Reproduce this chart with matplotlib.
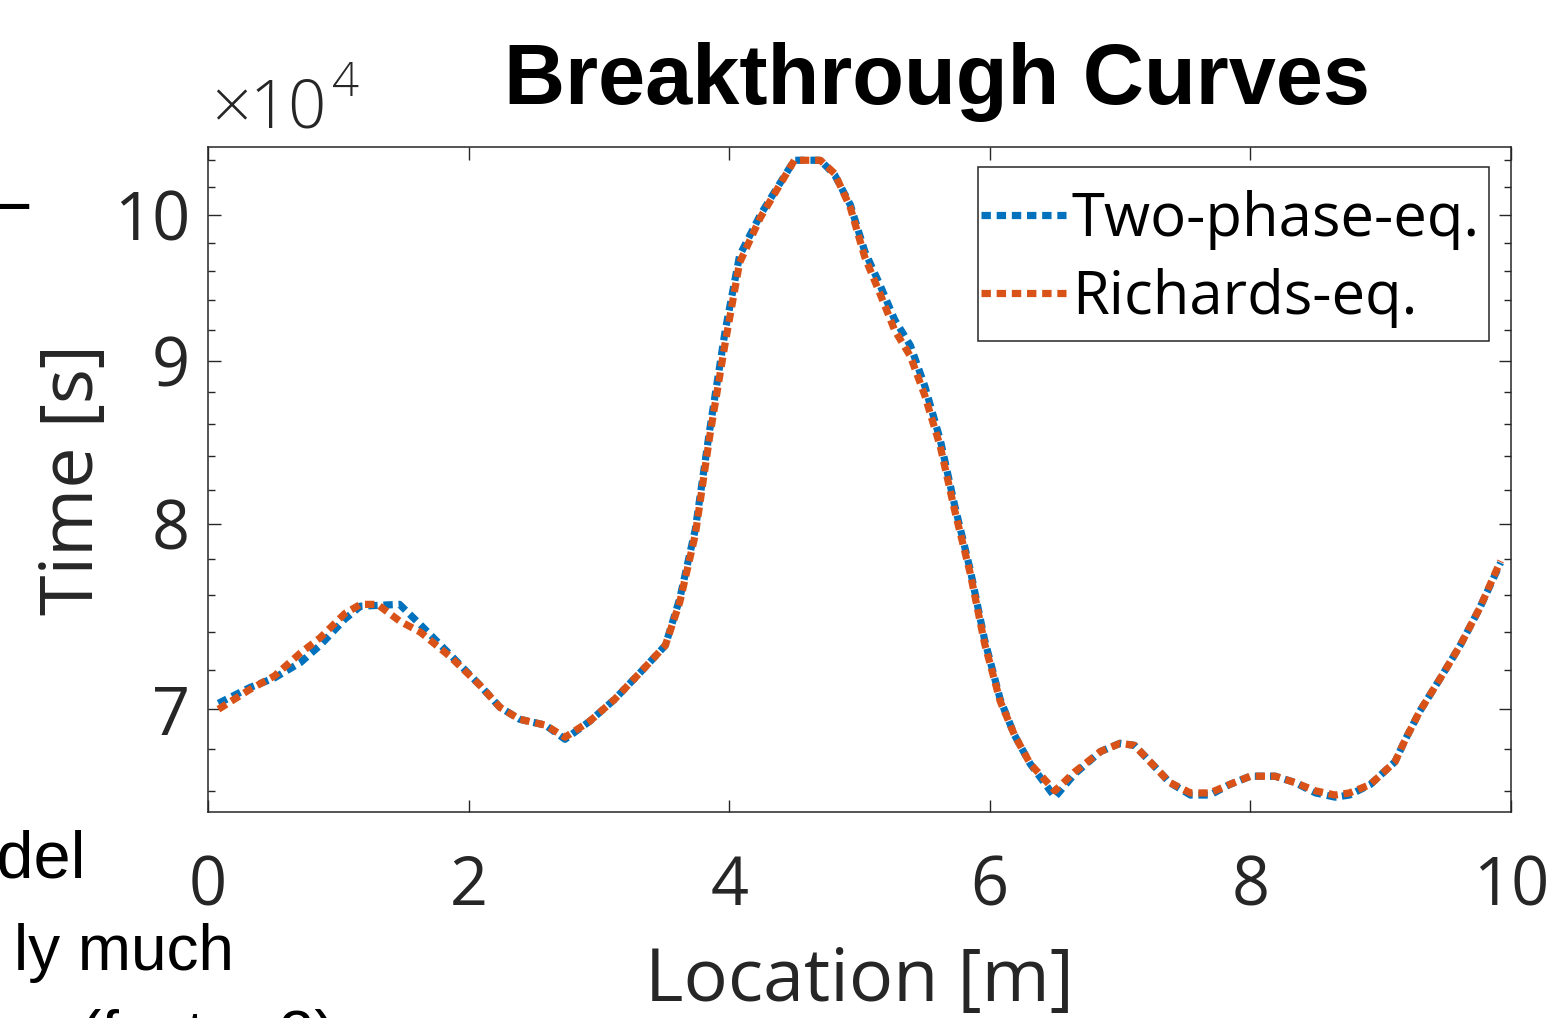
import matplotlib
matplotlib.use("Agg")
import matplotlib.pyplot as plt
from matplotlib.ticker import FixedLocator, NullFormatter, FixedFormatter
from matplotlib.patches import Rectangle
import numpy as np

# ---- data (time in units of 1e4 s) ----
x_two = [0.08, 0.32, 0.51, 0.71, 0.86, 1.05, 1.17, 1.47, 1.63, 1.86, 2.09, 2.24, 2.39, 2.59,
         2.74, 2.93, 3.12, 3.32, 3.51, 3.62, 3.74, 3.85, 3.97, 4.08, 4.24, 4.39, 4.50, 4.70,
         4.81, 4.93, 5.04, 5.16, 5.27, 5.39, 5.50, 5.62, 5.73, 5.85, 5.96, 6.08, 6.19, 6.31,
         6.50, 6.65, 6.85, 7.00, 7.11, 7.23, 7.38, 7.54, 7.69, 7.84, 8.00, 8.19, 8.34, 8.50,
         8.65, 8.76, 8.92, 9.11, 9.19, 9.30, 9.45, 9.61, 9.76, 9.92]
t_two = [7.03, 7.11, 7.16, 7.24, 7.33, 7.47, 7.54, 7.55, 7.44, 7.28, 7.12, 7.01, 6.95, 6.92,
         6.85, 6.94, 7.05, 7.19, 7.33, 7.58, 7.97, 8.56, 9.20, 9.71, 10.00, 10.23, 10.40, 10.40,
         10.29, 10.07, 9.74, 9.50, 9.27, 9.10, 8.84, 8.50, 8.11, 7.74, 7.36, 7.05, 6.87, 6.73,
         6.57, 6.68, 6.79, 6.83, 6.82, 6.74, 6.64, 6.58, 6.58, 6.63, 6.67, 6.67, 6.64, 6.59,
         6.57, 6.58, 6.63, 6.74, 6.85, 6.99, 7.15, 7.33, 7.53, 7.78]

x_rich = [0.08, 0.32, 0.51, 0.71, 0.86, 1.05, 1.17, 1.30, 1.47, 1.63, 1.86, 2.09, 2.24, 2.39,
          2.59, 2.74, 2.93, 3.12, 3.32, 3.51, 3.62, 3.74, 3.85, 3.97, 4.08, 4.24, 4.39, 4.50,
          4.70, 4.81, 4.93, 5.04, 5.16, 5.27, 5.39, 5.50, 5.62, 5.73, 5.85, 5.96, 6.08, 6.19,
          6.31, 6.50, 6.65, 6.85, 7.00, 7.11, 7.23, 7.38, 7.54, 7.69, 7.84, 8.00, 8.19, 8.34,
          8.50, 8.65, 8.76, 8.92, 9.11, 9.19, 9.30, 9.45, 9.61, 9.76, 9.92]
t_rich = [7.00, 7.10, 7.17, 7.29, 7.37, 7.50, 7.55, 7.55, 7.46, 7.40, 7.27, 7.12, 7.01, 6.95,
          6.92, 6.86, 6.94, 7.05, 7.19, 7.33, 7.56, 7.94, 8.52, 9.12, 9.66, 9.98, 10.22, 10.40,
          10.40, 10.30, 10.05, 9.70, 9.44, 9.20, 9.03, 8.78, 8.46, 8.08, 7.72, 7.34, 7.04, 6.87,
          6.73, 6.60, 6.69, 6.79, 6.83, 6.82, 6.74, 6.64, 6.59, 6.59, 6.63, 6.67, 6.67, 6.64,
          6.60, 6.58, 6.59, 6.63, 6.74, 6.85, 6.99, 7.15, 7.33, 7.53, 7.79]

series_labels = ["Two-phase-eq.", "Richards-eq."]
x_ticks = [0, 2, 4, 6, 8, 10]
y_ticks = [7, 8, 9, 10]
y_minor = [6.6, 6.8, 7.2, 7.4, 7.6, 7.8, 8.2, 8.4, 8.6, 8.8, 9.2, 9.4, 9.6, 9.8, 10.2, 10.4]

blue = "#0072BD"
orange = "#D95319"
axcol = "#262626"
afont = "Open Sans"
sfont = "Liberation Sans"

W, H = 1548, 1018
fig = plt.figure(figsize=(W / 100, H / 100), dpi=100)
fig.patch.set_facecolor("white")

L, R, T, B = 208, 1511, 147, 812
ax = fig.add_axes([L / W, 1 - B / H, (R - L) / W, (B - T) / H])

scale = 1e4
dash = (0, (1.3, 0.8))
ax.plot(x_two, np.array(t_two) * scale, color=blue, lw=5.2, linestyle=dash,
        label=series_labels[0], dash_capstyle="butt")
ax.plot(x_rich, np.array(t_rich) * scale, color=orange, lw=5.2, linestyle=dash,
        label=series_labels[1], dash_capstyle="butt")

ax.set_yscale("log")
ax.set_xlim(0, 10)
ax.set_ylim(6.5e4, 10.5e4)

ax.xaxis.set_major_locator(FixedLocator(x_ticks))
ax.set_xticklabels([str(v) for v in x_ticks])
ax.yaxis.set_major_locator(FixedLocator([v * scale for v in y_ticks]))
ax.yaxis.set_major_formatter(FixedFormatter([str(v) for v in y_ticks]))
ax.yaxis.set_minor_locator(FixedLocator([v * scale for v in y_minor]))
ax.yaxis.set_minor_formatter(NullFormatter())
ax.xaxis.set_minor_locator(FixedLocator([]))

for sp in ax.spines.values():
    sp.set_color(axcol)
    sp.set_linewidth(1.1)

tick_fs = 48
ax.tick_params(axis="both", which="major", direction="in", length=9, width=1.0,
               color=axcol, labelsize=tick_fs, labelcolor=axcol, top=True, right=True)
ax.tick_params(axis="y", which="major", pad=13)
ax.tick_params(axis="x", which="major", pad=30)
ax.tick_params(axis="y", which="minor", direction="in", length=5, width=1.0,
               color=axcol, right=True, left=True)
for lab in ax.get_xticklabels() + ax.get_yticklabels():
    lab.set_fontfamily(afont)

ax.set_xlabel("Location [m]", fontsize=53, family=afont, color=axcol, labelpad=17)
ax.set_ylabel("Time [s]", fontsize=53, family=afont, color=axcol, labelpad=2)

# legend frame drawn at the reference position, entries placed inside it
frame = Rectangle((978 / W, 1 - 341 / H), (1489 - 978) / W, (341 - 167) / H,
                  transform=fig.transFigure, facecolor="white", edgecolor=axcol,
                  linewidth=1.1, zorder=4, clip_on=False)
ax.add_patch(frame)
leg = ax.legend(loc="upper right", bbox_to_anchor=(1480 / W, 1 - 190 / H),
                bbox_transform=fig.transFigure,
                prop={"family": afont, "size": 43}, frameon=False,
                handlelength=1.42, handletextpad=0.1,
                borderpad=0.0, labelspacing=0.3, borderaxespad=0)
leg.set_zorder(5)
for t in leg.get_texts():
    t.set_color("black")

# exponent label
fig.text(212 / W, 1 - 128 / H, "×10", fontsize=48, family=afont, color=axcol,
         ha="left", va="baseline", fontweight="light")
fig.text(332 / W, 1 - 96 / H, "4", fontsize=34, family=afont, color=axcol,
         ha="left", va="baseline", fontweight="light")

# slide title and surrounding slide text fragments
fig.text(937 / W, 1 - 104 / H, "Breakthrough Curves", fontsize=61, family=sfont,
         fontweight="bold", ha="center", va="baseline", color="black")
fig.text(29 / W, 1 - 226 / H, "–", fontsize=56, family=sfont, ha="right",
         va="baseline", color="black")
fig.text(86 / W, 1 - 878 / H, "model", fontsize=48, family=sfont, ha="right",
         va="baseline", color="black")
fig.text(234 / W, 1 - 970 / H, "ly much", fontsize=46, family=sfont, ha="right",
         va="baseline", color="black")
fig.text(336 / W, 1 - 1056 / H, "(factor 2)", fontsize=46, family=sfont, ha="right",
         va="baseline", color="black")

fig.savefig("out.png", dpi=100)
